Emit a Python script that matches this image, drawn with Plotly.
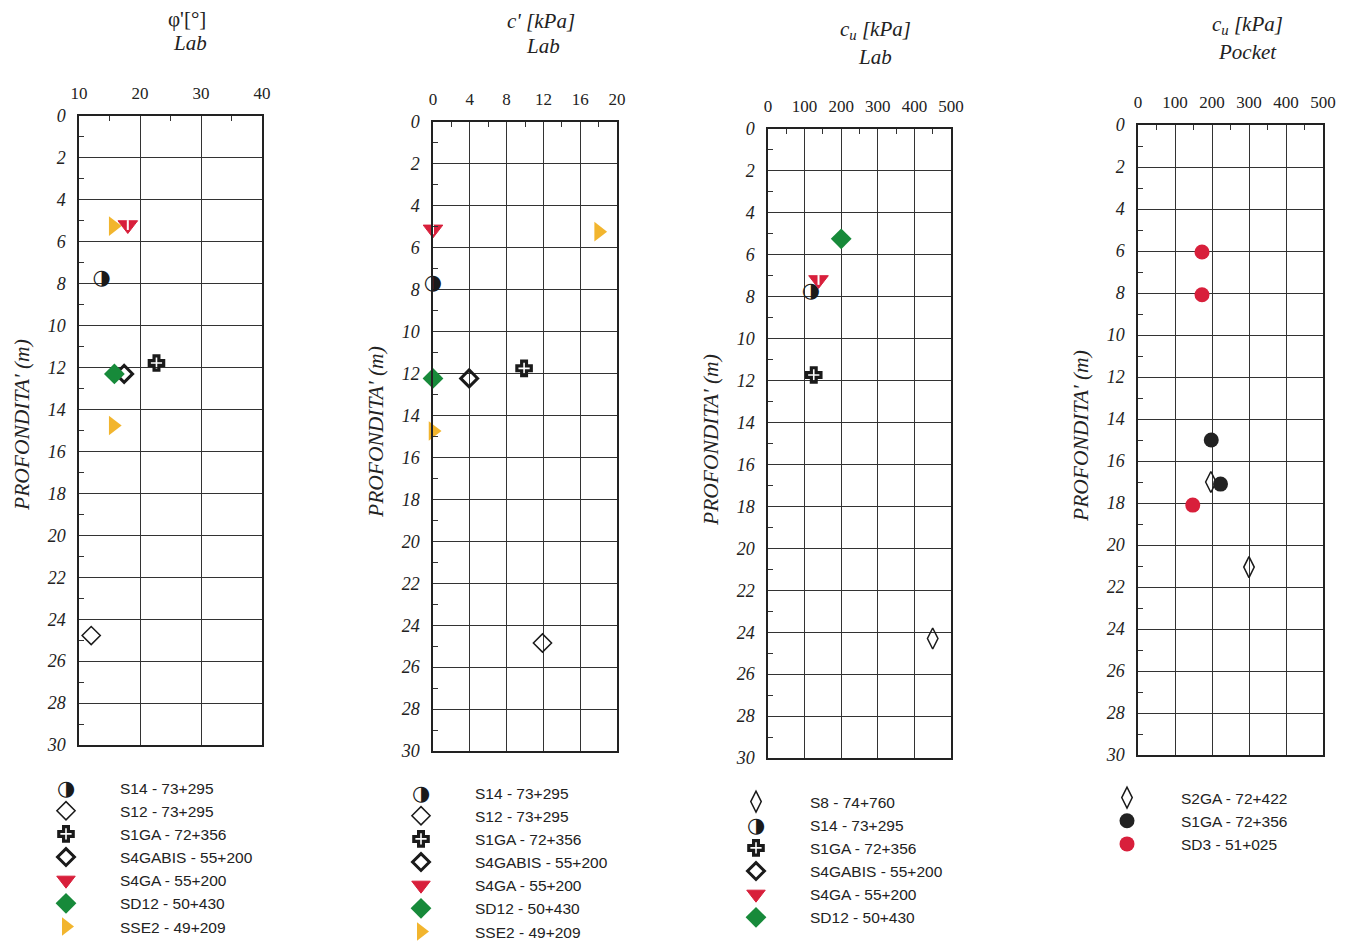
import plotly.graph_objects as go

W, H = 1354, 941

# ---------------- data ----------------
# Panel 1: phi' [deg] (Lab)
phi_names = ["S14 - 73+295", "S12 - 73+295", "S1GA - 72+356", "S4GABIS - 55+200",
             "S4GA - 55+200", "SD12 - 50+430", "SSE2 - 49+209"]
phi_values = [[13.7], [12.0], [22.7], [17.4], [18.0], [15.8], [15.6, 15.6]]
phi_depths = [[7.75], [24.78], [11.78], [12.3], [5.2], [12.3], [5.25, 14.76]]

# Panel 2: c' [kPa] (Lab)
c_names = ["S14 - 73+295", "S12 - 73+295", "S1GA - 72+356", "S4GABIS - 55+200",
           "S4GA - 55+200", "SD12 - 50+430", "SSE2 - 49+209"]
c_values = [[0.0], [11.9], [9.9], [3.93], [0.0], [0.0], [18.0, 0.0]]
c_depths = [[7.7], [24.85], [11.75], [12.23], [5.12], [12.23], [5.23, 14.74]]

# Panel 3: cu [kPa] (Lab)
cul_names = ["S8 - 74+760", "S14 - 73+295", "S1GA - 72+356", "S4GABIS - 55+200",
             "S4GA - 55+200", "SD12 - 50+430"]
cul_values = [[450], [117], [125], [None], [138], [200]]
cul_depths = [[24.3], [7.76], [11.73], [None], [7.2], [5.24]]

# Panel 4: cu [kPa] (Pocket)
cup_names = ["S2GA - 72+422", "S1GA - 72+356", "SD3 - 51+025"]
cup_values = [[197, 300], [198, 223], [173, 173, 148]]
cup_depths = [[17, 21.05], [15, 17.1], [6.05, 8.08, 18.1]]

# axis ranges / ticks
x_ranges = [[10, 40], [0, 20], [0, 500], [0, 500]]
x_dticks = [10, 4, 100, 100]
depth_range = [30, 0]

# ---------------- styles ----------------
RED = "#d81f3b"
GREEN = "#178a3a"
YELLOW = "#f2b52e"
BLACK = "#1a1a1a"
HALF_CIRCLE = "◑"

def style(name):
    key = name.split(" - ")[0]
    if key == "S14":
        # legend placeholder; the glyph itself is drawn as text
        return dict(symbol="circle", size=15, color="rgba(0,0,0,0)", line=dict(width=0))
    if key == "S12":
        return dict(symbol="diamond-open", size=14, color=BLACK, line=dict(color=BLACK, width=1.5))
    if key == "S1GA":
        return dict(symbol="cross-open", size=12, color=BLACK, line=dict(color=BLACK, width=3.2))
    if key == "S4GABIS":
        return dict(symbol="diamond-open", size=13, color=BLACK, line=dict(color=BLACK, width=3))
    if key == "S4GA":
        return dict(symbol="triangle-down", size=17, color=RED, line=dict(color=RED, width=1))
    if key == "SD12":
        return dict(symbol="diamond", size=16, color=GREEN, line=dict(color=GREEN, width=0))
    if key == "SSE2":
        return dict(symbol="triangle-right", size=17, color=YELLOW, line=dict(color=YELLOW, width=0))
    if key in ("S8", "S2GA"):
        return dict(symbol="diamond-tall-open", size=15, color=BLACK, line=dict(color=BLACK, width=1.5))
    return None

def pocket_style(name):
    key = name.split(" - ")[0]
    if key == "S2GA":
        return dict(symbol="diamond-tall-open", size=15, color=BLACK, line=dict(color=BLACK, width=1.5))
    if key == "S1GA":
        return dict(symbol="circle", size=15, color="#222222", line=dict(color="#222222", width=0))
    return dict(symbol="circle", size=15, color=RED, line=dict(color=RED, width=0))

fig = go.Figure()

panels = [
    (phi_names, phi_values, phi_depths, style),
    (c_names, c_values, c_depths, style),
    (cul_names, cul_values, cul_depths, style),
    (cup_names, cup_values, cup_depths, pocket_style),
]

for i, (names, vals, deps, sty) in enumerate(panels):
    ax = "" if i == 0 else str(i + 1)
    leg = "legend" if i == 0 else "legend" + str(i + 1)
    for n, v, d in zip(names, vals, deps):
        key = n.split(" - ")[0]
        fig.add_trace(go.Scatter(x=v, y=d, name=n, mode="markers", marker=sty(n),
                                 xaxis="x" + ax, yaxis="y" + ax, legend=leg,
                                 showlegend=True, cliponaxis=False))
        if key == "S14":
            # half-filled circle glyph at the data points
            fig.add_trace(go.Scatter(x=v, y=d, mode="text", text=[HALF_CIRCLE] * len(v),
                                     textposition="middle center", showlegend=False,
                                     textfont=dict(family="DejaVu Sans", size=21, color=BLACK),
                                     xaxis="x" + ax, yaxis="y" + ax, cliponaxis=False))
        if key == "S4GA":
            # white inner stripe of the half-open triangle
            fig.add_trace(go.Scatter(x=v, y=d, mode="markers", xaxis="x" + ax, yaxis="y" + ax,
                                     showlegend=False, hoverinfo="skip", cliponaxis=False,
                                     marker=dict(symbol="line-ns", size=7, color="white",
                                                 line=dict(color="white", width=2))))

# ---------------- layout geometry (pixels) ----------------
px_boxes = [(79, 262, 116, 745), (433, 617, 122, 751), (768, 951, 129, 758), (1138, 1323, 125, 755)]

SERIF = "Liberation Serif, Times New Roman, serif"
SANS = "Liberation Sans, Arial, sans-serif"

layout = dict(
    width=W, height=H, margin=dict(l=0, r=0, t=0, b=0, autoexpand=False),
    paper_bgcolor="white", plot_bgcolor="white", showlegend=True,
)

for i, (l, r, t, b) in enumerate(px_boxes):
    ax = "" if i == 0 else str(i + 1)
    xd = [l / W, r / W]
    yd = [1 - b / H, 1 - t / H]
    layout["xaxis" + ax] = dict(
        domain=xd, range=x_ranges[i], side="top", anchor="y" + ax,
        dtick=x_dticks[i], tick0=0, showgrid=True, gridcolor="#333", gridwidth=1,
        zeroline=False, showline=True, linecolor="#222", linewidth=1.5, mirror=True,
        ticks="", ticklabelstandoff=8,
        tickfont=dict(family=SERIF, size=17, color="#222"),
        minor=dict(dtick=x_dticks[i] / 2, ticks="inside", ticklen=5, tickcolor="#333", showgrid=False),
        fixedrange=True,
    )
    layout["yaxis" + ax] = dict(
        domain=yd, range=depth_range, anchor="x" + ax,
        dtick=2, tick0=0, showgrid=True, gridcolor="#333", gridwidth=1,
        zeroline=False, showline=True, linecolor="#222", linewidth=1.5, mirror=True,
        ticks="", ticklabelstandoff=8,
        tickfont=dict(family=SERIF, size=18, color="#222", style="italic"),
        minor=dict(dtick=1, ticks="inside", ticklen=5, tickcolor="#333", showgrid=False),
        fixedrange=True,
    )

# legends (pixel position of top-left corner)
legend_px = [(12, 771), (367, 776), (702, 785), (1073, 781)]
for i, (lx, ly) in enumerate(legend_px):
    key = "legend" if i == 0 else "legend" + str(i + 1)
    layout[key] = dict(
        x=lx / W, y=1 - ly / H, xanchor="left", yanchor="top",
        font=dict(family=SANS, size=15.5, color="#222"),
        itemwidth=98, tracegroupgap=0, bgcolor="rgba(0,0,0,0)",
        itemclick=False, itemdoubleclick=False,
    )

fig.update_layout(**layout)

# half-circle glyph in the legends (where the S14 legend symbol sits)
legend_glyphs = [(66, 788), (421, 793), (756, 825)]
for x, y in legend_glyphs:
    fig.add_annotation(text=HALF_CIRCLE, x=x / W, y=1 - y / H, xref="paper", yref="paper",
                       showarrow=False, xanchor="center", yanchor="middle",
                       font=dict(family="DejaVu Sans", size=21, color=BLACK))

# titles
titles = [
    ("φ'[°]", 187, 19, "normal"), ("Lab", 190, 43, "italic"),
    ("c' [kPa]", 541, 21, "italic"), ("Lab", 543, 46, "italic"),
    ("c<sub>u</sub> [kPa]", 875, 30, "italic"), ("Lab", 875, 57, "italic"),
    ("c<sub>u</sub> [kPa]", 1247, 25, "italic"), ("Pocket", 1247, 52, "italic"),
]
for txt, x, y, st in titles:
    fig.add_annotation(text=txt, x=x / W, y=1 - y / H, xref="paper", yref="paper",
                       showarrow=False, xanchor="center", yanchor="middle",
                       font=dict(family=SERIF, size=21, color="#222", style=st))

ylabels = [(22, 425), (376, 432), (711, 440), (1081, 436)]
for x, y in ylabels:
    fig.add_annotation(text="PROFONDITA' (m)", x=x / W, y=1 - y / H, xref="paper", yref="paper",
                       showarrow=False, xanchor="center", yanchor="middle", textangle=-90,
                       font=dict(family=SERIF, size=21.5, color="#222", style="italic"))

fig.write_html("out.html")
